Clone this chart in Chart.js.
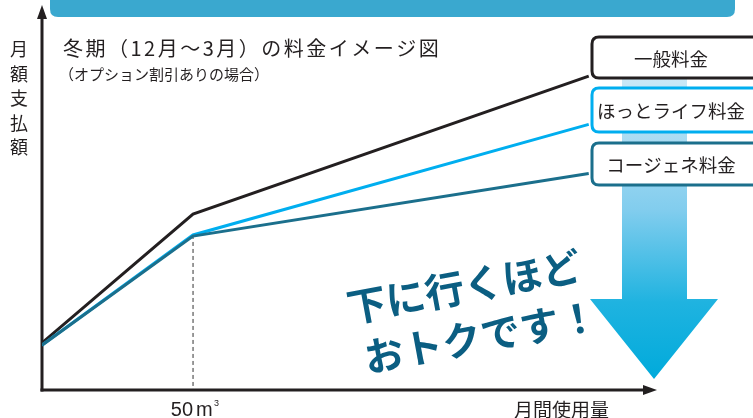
<!DOCTYPE html>
<html><head><meta charset="utf-8">
<script src="https://cdn.jsdelivr.net/npm/chart.js@4"></script>
<style>html,body{margin:0;padding:0;background:#fff}#wrap{width:753px;height:418px}</style>
</head><body><div id="wrap"><canvas id="c" width="753" height="418"></canvas></div>
<script>
const usage = [0, 50, 181];
const generalFee = [12.4, 46.3, 82.6];
const hotlifeFee = [11.8, 40.8, 69.9];
const cogenFee = [11.8, 40.5, 57.0];
const seriesNames = ['一般料金', 'ほっとライフ料金', 'コージェネ料金'];
const seriesColors = ['#231f20', '#00aeef', '#1b6f8c'];
const title = '冬期（12月〜3月）の料金イメージ図';
const subtitle = '（オプション割引ありの場合）';
const yLabel = '月額支払額';
const xLabel = '月間使用量';
const kneeNum = '50';
const kneeUnit = 'm';
const calloutLines = ['下に行くほど', 'おトクです！'];
const JP = '"Noto Sans CJK JP", "Noto Sans", sans-serif';

function pts(vals){ return usage.map((x,i)=>({x, y: vals[i]})); }

function rr(ctx,x,y,w,h,r){ctx.beginPath();ctx.moveTo(x+r,y);ctx.lineTo(x+w-r,y);ctx.quadraticCurveTo(x+w,y,x+w,y+r);ctx.lineTo(x+w,y+h-r);ctx.quadraticCurveTo(x+w,y+h,x+w-r,y+h);ctx.lineTo(x+r,y+h);ctx.quadraticCurveTo(x,y+h,x,y+h-r);ctx.lineTo(x,y+r);ctx.quadraticCurveTo(x,y,x+r,y);ctx.closePath();}

const deco = {
  id: 'deco',
  beforeDatasetsDraw(chart){
    const ctx = chart.ctx, xs = chart.scales.x, ys = chart.scales.y;
    ctx.save();
    // banner
    ctx.fillStyle = '#3aa8cf';
    rr(ctx, 50, -20, 685, 37, 8); ctx.fill();
    // big arrow
    const g = ctx.createLinearGradient(0, 70, 0, 380);
    g.addColorStop(0, '#cfeaf7'); g.addColorStop(0.45, '#82cdee'); g.addColorStop(0.75, '#1fb3e0'); g.addColorStop(1, '#00aadb');
    ctx.fillStyle = g;
    ctx.beginPath();
    ctx.moveTo(622, 70); ctx.lineTo(687, 70); ctx.lineTo(687, 299); ctx.lineTo(718, 299);
    ctx.lineTo(654, 379); ctx.lineTo(590, 299); ctx.lineTo(622, 299); ctx.closePath(); ctx.fill();
    // dashed knee line
    const kx = xs.getPixelForValue(usage[1]);
    ctx.strokeStyle = '#333'; ctx.lineWidth = 1; ctx.setLineDash([4,3]);
    ctx.beginPath(); ctx.moveTo(kx, ys.getPixelForValue(hotlifeFee[1])); ctx.lineTo(kx, ys.getPixelForValue(0)); ctx.stroke();
    ctx.setLineDash([]);
    // axes
    const x0 = xs.getPixelForValue(0), y0 = ys.getPixelForValue(0);
    const xEnd = chart.chartArea.right, yTop = chart.chartArea.top - 5;
    ctx.strokeStyle = '#231f20'; ctx.fillStyle = '#231f20'; ctx.lineWidth = 3;
    ctx.beginPath(); ctx.moveTo(x0, y0+1.5); ctx.lineTo(x0, yTop+12); ctx.stroke();
    ctx.beginPath(); ctx.moveTo(x0-1.5, y0); ctx.lineTo(xEnd-12, y0); ctx.stroke();
    ctx.beginPath(); ctx.moveTo(x0, yTop); ctx.lineTo(x0-5, yTop+14); ctx.lineTo(x0+5, yTop+14); ctx.closePath(); ctx.fill();
    ctx.beginPath(); ctx.moveTo(xEnd, y0); ctx.lineTo(xEnd-14, y0-5); ctx.lineTo(xEnd-14, y0+5); ctx.closePath(); ctx.fill();
    ctx.restore();
  },
  afterDatasetsDraw(chart){
    const ctx = chart.ctx, xs = chart.scales.x, ys = chart.scales.y;
    ctx.save();
    ctx.fillStyle = '#231f20';
    ctx.textBaseline = 'alphabetic';
    // title
    ctx.font = '20px ' + JP; ctx.textAlign = 'left';
    ctx.letterSpacing = '2.5px';
    ctx.fillText(title, 63, 56);
    ctx.letterSpacing = '0px';
    ctx.font = '15px ' + JP;
    ctx.fillText(subtitle, 59, 80);
    // y label vertical
    ctx.font = '18px ' + JP; ctx.textAlign = 'center';
    [...yLabel].forEach((ch,i)=>ctx.fillText(ch, 19, 56 + i*24.5));
    // x labels
    const kx = xs.getPixelForValue(usage[1]);
    ctx.font = '20px "Liberation Sans Narrow", "Liberation Sans", sans-serif';
    ctx.textAlign = 'right';
    ctx.fillText(kneeNum, kx, 416);
    ctx.textAlign = 'left';
    ctx.fillText(kneeUnit, kx + 3, 416);
    ctx.font = '9px "Liberation Sans", sans-serif';
    ctx.fillText('3', kx + 21, 406);
    ctx.font = '19px ' + JP; ctx.textAlign = 'left';
    ctx.fillText(xLabel, 514, 417);
    // legend boxes
    const boxes = [[37, 78],[88, 132],[143, 185]];
    boxes.forEach((b,i)=>{
      ctx.fillStyle = '#fff'; ctx.strokeStyle = seriesColors[i]; ctx.lineWidth = 3;
      rr(ctx, 592, b[0], 175, b[1]-b[0], 7); ctx.fill(); ctx.stroke();
      ctx.fillStyle = '#231f20'; ctx.font = '18.5px ' + JP; ctx.textAlign = 'center'; ctx.textBaseline = 'middle';
      ctx.fillText(seriesNames[i], 671, (b[0]+b[1])/2 + 1);
    });
    // callout
    ctx.translate(350, 323); ctx.rotate(-10.5*Math.PI/180);
    ctx.fillStyle = '#0b5e82'; ctx.textAlign = 'left'; ctx.textBaseline = 'alphabetic';
    ctx.font = 'bold 39.5px ' + JP;
    ctx.fillText(calloutLines[0], 0, 0);
    ctx.fillText(calloutLines[1], 8, 52);
    ctx.restore();
  }
};

new Chart(document.getElementById('c'), {
  type: 'line',
  data: { datasets: [
    { label: seriesNames[2], data: pts(cogenFee), borderColor: seriesColors[2], borderWidth: 3, pointRadius: 0, tension: 0, fill: false },
    { label: seriesNames[1], data: pts(hotlifeFee), borderColor: seriesColors[1], borderWidth: 3, pointRadius: 0, tension: 0, fill: false },
    { label: seriesNames[0], data: pts(generalFee), borderColor: seriesColors[0], borderWidth: 3, pointRadius: 0, tension: 0, fill: false }
  ]},
  options: {
    responsive: false, animation: false, devicePixelRatio: 1,
    layout: { padding: { left: 42, right: 96, top: 10, bottom: 28 } },
    plugins: { legend: { display: false }, tooltip: { enabled: false } },
    scales: {
      x: { type: 'linear', min: 0, max: 203.6, display: false },
      y: { min: 0, max: 100, display: false }
    }
  },
  plugins: [deco]
});
</script></body></html>
